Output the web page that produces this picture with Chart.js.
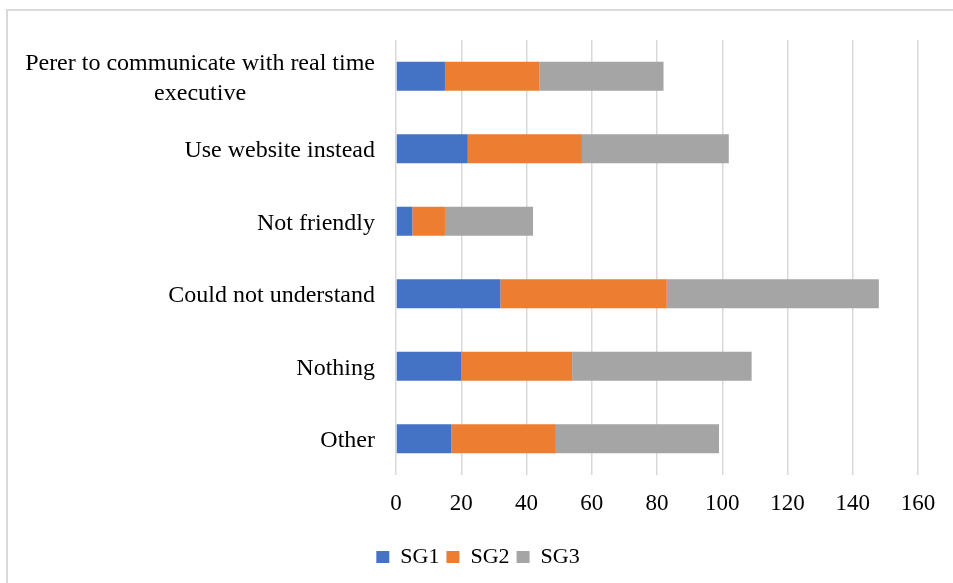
<!DOCTYPE html>
<html>
<head>
<meta charset="utf-8">
<title>Reasons by service group</title>
<script src="https://cdn.jsdelivr.net/npm/chart.js@4.4.1/dist/chart.umd.min.js"></script>
<style>
    body { margin: 0; background: #fff; overflow: hidden; }
    .frame {
        position: absolute;
        left: 6px;
        top: 9px;
        width: 1000px;
        height: 1000px;
        border: 2px solid #d9d9d9;
    }
    #reasonChart { position: absolute; left: 0; top: 0; }
</style>
</head>
<body>
<div class="frame"></div>
<canvas id="reasonChart" width="953" height="583"></canvas>

<script>
// Categories, top to bottom
const categories = [
    ['Perer to communicate with real time', 'executive'],
    'Use website instead',
    'Not friendly',
    'Could not understand',
    'Nothing',
    'Other'
];

// Responses per service group
const sg1 = [15, 22, 5, 32, 20, 17];
const sg2 = [29, 35, 10, 51, 34, 32];
const sg3 = [38, 45, 27, 65, 55, 50];

const xTicks = [0, 20, 40, 60, 80, 100, 120, 140, 160];

const FONT = '"Liberation Serif", "Times New Roman", serif';

// Draws the category labels: block right-aligned, lines centred inside it
const categoryLabels = {
    id: 'categoryLabels',
    afterDraw(chart) {
        const ctx = chart.ctx;
        const y = chart.scales.y;
        const right = chart.chartArea.left - 21;
        const lineHeight = 30;
        ctx.save();
        ctx.font = '24px ' + FONT;
        ctx.fillStyle = '#000';
        ctx.textAlign = 'center';
        ctx.textBaseline = 'middle';
        categories.forEach(function (label, i) {
            const lines = Array.isArray(label) ? label : [label];
            const widest = Math.max.apply(null, lines.map(function (l) { return ctx.measureText(l).width; }));
            const cx = right - widest / 2;
            const cy = y.getPixelForValue(i) + 2;
            const startY = cy - (lines.length - 1) * lineHeight / 2;
            lines.forEach(function (line, j) {
                ctx.fillText(line, cx, startY + j * lineHeight);
            });
        });
        ctx.restore();
    }
};

new Chart(document.getElementById('reasonChart'), {
    type: 'bar',
    data: {
        labels: categories,
        datasets: [
            { label: 'SG1', data: sg1, backgroundColor: '#4472C4' },
            { label: 'SG2', data: sg2, backgroundColor: '#ED7D31' },
            { label: 'SG3', data: sg3, backgroundColor: '#A5A5A5' }
        ]
    },
    options: {
        indexAxis: 'y',
        responsive: false,
        animation: false,
        categoryPercentage: 1,
        barPercentage: 0.4,
        layout: {
            padding: { top: 40, right: 35, bottom: 5, left: 38 }
        },
        plugins: {
            legend: {
                position: 'bottom',
                labels: {
                    boxWidth: 13,
                    boxHeight: 12,
                    padding: 7,
                    color: '#000',
                    font: { family: FONT, size: 22 }
                }
            },
            tooltip: { enabled: false }
        },
        scales: {
            x: {
                stacked: true,
                min: 0,
                max: 160,
                afterBuildTicks: function (scale) {
                    scale.ticks = xTicks.map(function (v) { return { value: v }; });
                },
                afterFit: function (scale) {
                    scale.height = 64;
                },
                border: { display: false },
                grid: {
                    color: '#d9d9d9',
                    lineWidth: 1.5,
                    drawTicks: false
                },
                ticks: {
                    padding: 15,
                    color: '#000',
                    font: { family: FONT, size: 23 }
                }
            },
            y: {
                stacked: true,
                afterFit: function (scale) {
                    scale.width = 358;
                },
                border: { display: false },
                grid: { display: false },
                ticks: { display: false }
            }
        }
    },
    plugins: [categoryLabels]
});
</script>
</body>
</html>
